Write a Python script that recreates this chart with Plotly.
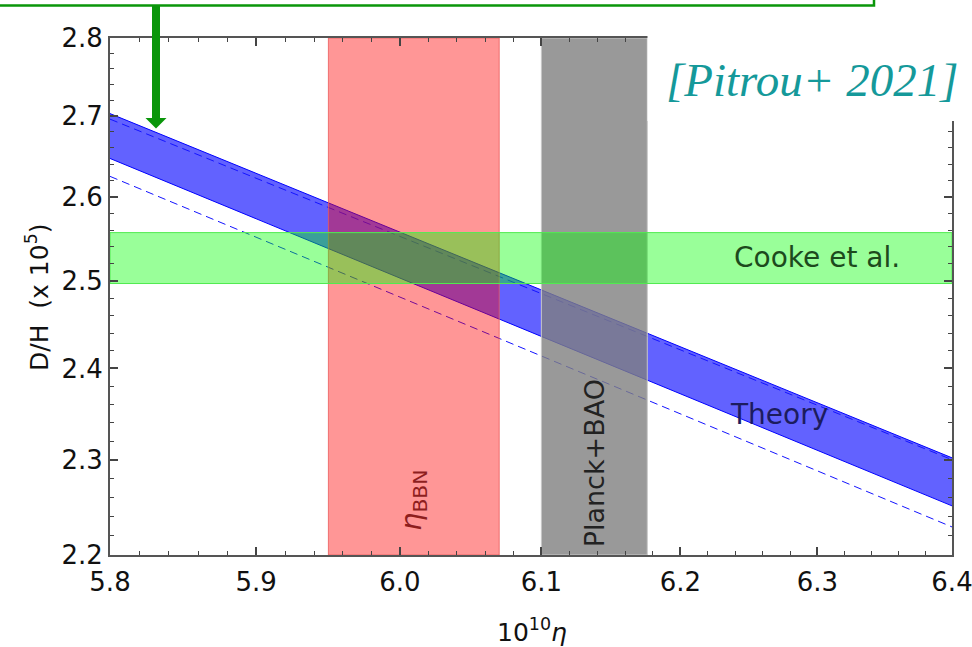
import numpy as np
import plotly.graph_objects as go

# ---- data -------------------------------------------------------------
eta_ends = [5.8, 6.4]                 # 10^10 eta at the two ends of the theory lines
dh_theory_upper = [2.703, 2.302]      # D/H x 1e5, upper edge of theory band
dh_theory_lower = [2.647, 2.251]      # D/H x 1e5, lower edge of theory band
dh_dash_upper = [2.696, 2.300]        # dashed reference line (upper)
dh_dash_lower = [2.625, 2.229]        # dashed reference line (lower)

eta_bbn = [5.95, 6.07]                # eta_BBN interval
eta_planck = [6.10, 6.176]            # Planck+BAO interval
dh_cooke = [2.497, 2.557]             # Cooke et al. measurement

x_range = [5.8, 6.4]
y_range = [2.2, 2.8]
x_ticks = [5.8, 5.9, 6.0, 6.1, 6.2, 6.3, 6.4]
y_ticks = [2.2, 2.3, 2.4, 2.5, 2.6, 2.7, 2.8]
x_minor = [round(5.8 + 0.02 * i, 2) for i in range(31)]
y_minor = [round(2.2 + 0.02 * i, 2) for i in range(31)]

# ---- layout geometry (pixels) ------------------------------------------
W, H = 972, 647
ML, MR, MT, MB = 110, 20, 38, 92
PW, PH = W - ML - MR, H - MT - MB


def px(xp):
    return (xp - ML) / PW


def py(yp):
    return (H - MB - yp) / PH


def rect(x, y):
    return [x[0], x[1], x[1], x[0], x[0]], [y[0], y[0], y[1], y[1], y[0]]


fig = go.Figure()

# theory band
fig.add_trace(go.Scatter(x=eta_ends, y=dh_theory_lower, mode="lines",
                         line=dict(color="rgb(0,0,255)", width=1), hoverinfo="skip"))
fig.add_trace(go.Scatter(x=eta_ends, y=dh_theory_upper, mode="lines", fill="tonexty",
                         fillcolor="rgba(0,0,255,0.615)",
                         line=dict(color="rgb(0,0,255)", width=1), hoverinfo="skip"))
for ys in (dh_dash_upper, dh_dash_lower):
    fig.add_trace(go.Scatter(x=eta_ends, y=ys, mode="lines",
                             line=dict(color="rgb(20,20,255)", width=1, dash="8px,5px"),
                             hoverinfo="skip"))

# eta_BBN band
bx, by = rect(eta_bbn, y_range)
fig.add_trace(go.Scatter(x=bx, y=by, mode="lines", fill="toself",
                         fillcolor="rgba(255,0,0,0.41)",
                         line=dict(color="rgba(235,90,90,0.8)", width=1), hoverinfo="skip"))
# Planck+BAO band
bx, by = rect(eta_planck, y_range)
fig.add_trace(go.Scatter(x=bx, y=by, mode="lines", fill="toself",
                         fillcolor="rgba(128,128,128,0.8)",
                         line=dict(color="rgba(200,200,200,1)", width=1), hoverinfo="skip"))
# Cooke et al. band
bx, by = rect(x_range, dh_cooke)
fig.add_trace(go.Scatter(x=bx, y=by, mode="lines", fill="toself",
                         fillcolor="rgba(0,255,0,0.4)",
                         line=dict(color="rgba(80,235,80,1)", width=1), hoverinfo="skip"))

font_main = "DejaVu Sans"
axis_common = dict(
    type="log", showgrid=False, zeroline=False, showline=True, automargin=False,
    linecolor="#555", linewidth=2, mirror="allticks",
    ticks="inside", ticklen=8, tickwidth=1.5, tickcolor="#444",
    ticklabeloverflow="allow",
    tickfont=dict(family=font_main, size=26, color="#111"),
    minor=dict(ticks="inside", ticklen=4, tickwidth=1, tickcolor="#444"),
)

fig.update_xaxes(**axis_common, range=list(np.log10(x_range)),
                 tickmode="array", tickvals=x_ticks,
                 ticktext=[f"{v:.1f}" for v in x_ticks], ticklabelstandoff=3)
fig.update_xaxes(minor_tickmode="array", minor_tickvals=x_minor)
fig.update_yaxes(**axis_common, range=list(np.log10(y_range)),
                 tickmode="array", tickvals=y_ticks,
                 ticktext=[f"{v:.1f}" for v in y_ticks])
fig.update_yaxes(minor_tickmode="array", minor_tickvals=y_minor)

centered = dict(showarrow=False, xanchor="center", yanchor="middle")
ann = [
    dict(x=np.log10(6.30), y=np.log10(np.mean(dh_cooke)), xref="x", yref="y",
         text="Cooke et al.", **centered,
         font=dict(family=font_main, size=28, color="#1d4a1d")),
    dict(x=np.log10(6.272), y=np.log10(2.349), xref="x", yref="y",
         text="Theory", **centered,
         font=dict(family=font_main, size=28, color="#1c1c5e")),
    dict(x=np.log10(6.009), y=np.log10(2.257), xref="x", yref="y",
         text="<i>η</i><sub>BBN</sub>", textangle=-90, **centered,
         font=dict(family=font_main, size=29, color="#8e1e1e")),
    dict(x=np.log10(6.138), y=np.log10(2.2966), xref="x", yref="y",
         text="Planck+BAO", textangle=-90, **centered,
         font=dict(family=font_main, size=27, color="#222222")),
    dict(x=px(812), y=py(80), xref="paper", yref="paper",
         text="<i>[Pitrou+ 2021]</i>", **centered,
         font=dict(family="Liberation Serif, Times New Roman", size=47, color="#15999a")),
    dict(x=px(532), y=py(630), xref="paper", yref="paper",
         text="10<sup>10</sup><i>η</i>", **centered,
         font=dict(family=font_main, size=25, color="#111")),
    dict(x=px(37), y=py(297), xref="paper", yref="paper", textangle=-90,
         text="D/H  (x 10<sup>5</sup>)", **centered,
         font=dict(family=font_main, size=25, color="#111")),
]

green = "rgb(10,150,10)"
shapes = [
    # white panel behind the citation
    dict(type="rect", xref="paper", yref="paper", layer="above",
         x0=px(647.5), x1=px(965), y0=py(121), y1=py(30),
         fillcolor="white", line=dict(width=0)),
    # green callout box
    dict(type="rect", xref="paper", yref="paper", layer="above",
         x0=px(-20), x1=px(874), y0=py(5.5), y1=py(-40),
         fillcolor="rgba(0,0,0,0)", line=dict(color=green, width=2.5)),
    # arrow shaft and head
    dict(type="rect", xref="paper", yref="paper", layer="above",
         x0=px(152), x1=px(160), y0=py(119), y1=py(6),
         fillcolor=green, line=dict(width=0)),
    dict(type="path", xref="paper", yref="paper", layer="above",
         path=f"M {px(145.5)} {py(118)} L {px(166.5)} {py(118)} L {px(156)} {py(128.5)} Z",
         fillcolor=green, line=dict(width=0)),
]

fig.update_layout(
    width=W, height=H, margin=dict(l=ML, r=MR, t=MT, b=MB, autoexpand=False),
    paper_bgcolor="white", plot_bgcolor="white", showlegend=False,
    annotations=ann, shapes=shapes,
)

fig.write_html("out.html")
